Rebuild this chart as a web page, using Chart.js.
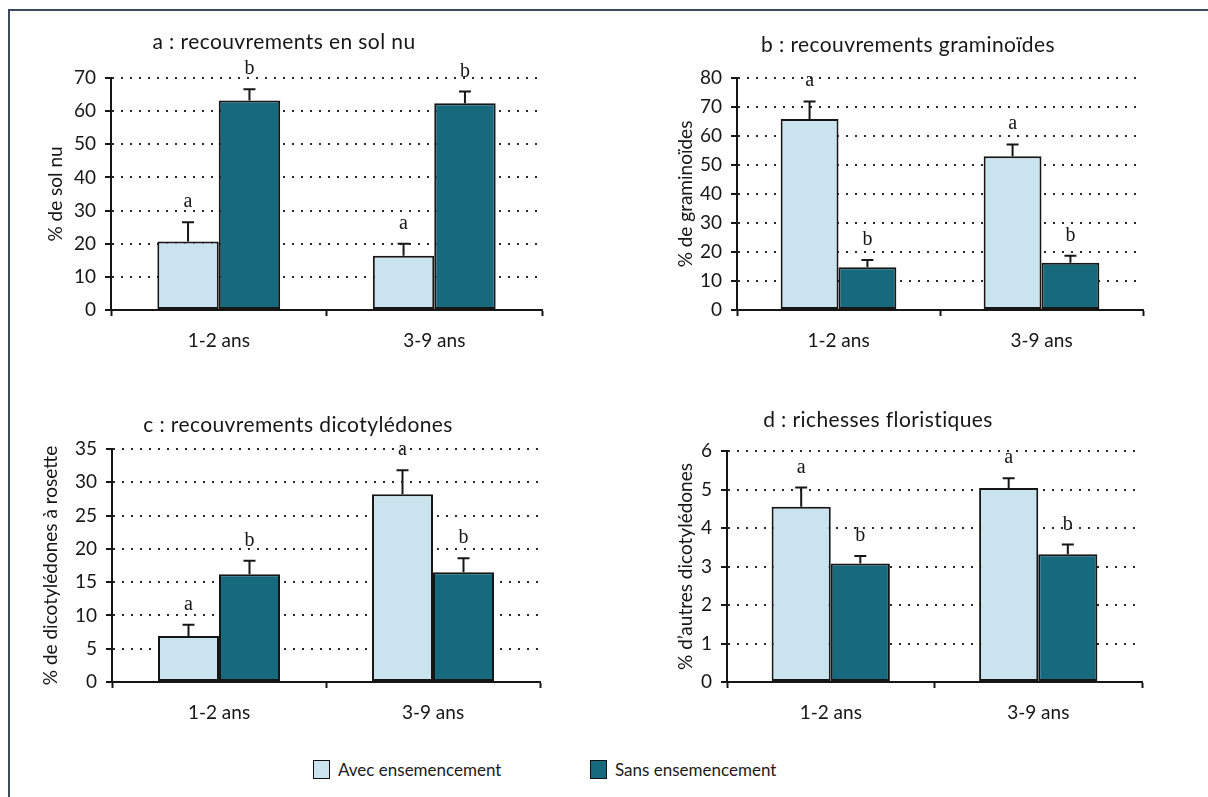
<!DOCTYPE html>
<html>
<head>
<meta charset="utf-8">
<script src="https://cdn.jsdelivr.net/npm/chart.js@4.4.1/dist/chart.umd.min.js"></script>
<style>
  body { margin: 0; background: #fff; width: 1208px; height: 797px; position: relative; overflow: hidden; font-family: Lato, sans-serif; }
  .frame { position: absolute; left: 8px; top: 9px; width: 1220px; height: 800px; border-left: 2px solid #3b4a58; border-top: 2px solid #3b4a58; }
  canvas { position: absolute; }
  .legend { position: absolute; top: 759px; font-size: 17px; color: #1a1a1a; display: flex; align-items: center; }
  .legend span.box { display: inline-block; width: 15px; height: 17px; border: 1.5px solid #111; margin-right: 8px; }
</style>
</head>
<body>
<div class="frame"></div>
<canvas id="chartA" width="520" height="340" style="left:30px;top:20px"></canvas>
<canvas id="chartB" width="510" height="340" style="left:640px;top:20px"></canvas>
<canvas id="chartC" width="520" height="340" style="left:30px;top:400px"></canvas>
<canvas id="chartD" width="510" height="340" style="left:640px;top:400px"></canvas>
<div class="legend" style="left:313px"><span class="box" style="background:#c9e4ee"></span>Avec ensemencement</div>
<div class="legend" style="left:590px"><span class="box" style="background:#17697d"></span>Sans ensemencement</div>

<script>
// ---- Data ----
const categories = ["1-2 ans", "3-9 ans"];
const seriesNames = ["Avec ensemencement", "Sans ensemencement"];

// a : sol nu
const solNuAvec = [20.7, 16.4];
const solNuSans = [63.2, 62.4];
const solNuAvecErr = [5.8, 3.6];
const solNuSansErr = [3.4, 3.5];
const solNuLettres = [["a", "a"], ["b", "b"]];
const solNuTicks = [0, 10, 20, 30, 40, 50, 60, 70];

// b : graminoïdes
const gramAvec = [65.9, 53.0];
const gramSans = [14.7, 16.3];
const gramAvecErr = [6.0, 4.1];
const gramSansErr = [2.5, 2.4];
const gramLettres = [["a", "a"], ["b", "b"]];
const gramTicks = [0, 10, 20, 30, 40, 50, 60, 70, 80];

// c : dicotylédones à rosette
const dicoAvec = [6.9, 28.2];
const dicoSans = [16.2, 16.5];
const dicoAvecErr = [1.7, 3.6];
const dicoSansErr = [2.0, 2.1];
const dicoLettres = [["a", "a"], ["b", "b"]];
const dicoTicks = [0, 5, 10, 15, 20, 25, 30, 35];

// d : richesses floristiques
const richAvec = [4.55, 5.04];
const richSans = [3.08, 3.32];
const richAvecErr = [0.5, 0.25];
const richSansErr = [0.19, 0.25];
const richLettres = [["a", "a"], ["b", "b"]];
const richTicks = [0, 1, 2, 3, 4, 5, 6];

const LIGHT = "#c9e4ee";
const DARK = "#17697d";
const INK = "#161616";
const FONT = "Lato, sans-serif";

// ---- Plugins ----
// upward error bars + significance letters
const errorBarPlugin = {
  id: "errorBars",
  afterDatasetsDraw(chart) {
    const ctx = chart.ctx;
    const y = chart.scales.y;
    ctx.save();
    chart.data.datasets.forEach((ds, di) => {
      const meta = chart.getDatasetMeta(di);
      meta.data.forEach((bar, i) => {
        const top = y.getPixelForValue(ds.data[i] + ds.errors[i]);
        ctx.strokeStyle = INK;
        ctx.lineWidth = 2;
        ctx.beginPath();
        ctx.moveTo(bar.x, bar.y);
        ctx.lineTo(bar.x, top);
        ctx.moveTo(bar.x - 6, top);
        ctx.lineTo(bar.x + 6, top);
        ctx.stroke();
        ctx.fillStyle = INK;
        ctx.font = "20px 'Liberation Serif', serif";
        ctx.textAlign = "center";
        ctx.textBaseline = "alphabetic";
        ctx.fillText(ds.letters[i], bar.x, top - 15);
      });
    });
    ctx.restore();
  }
};

const panelTitlePlugin = {
  id: "panelTitle",
  afterDraw(chart, args, opts) {
    const ctx = chart.ctx;
    ctx.save();
    ctx.fillStyle = INK;
    ctx.font = "21px " + FONT;
    ctx.letterSpacing = "0.4px";
    ctx.textAlign = "center";
    ctx.textBaseline = "middle";
    ctx.fillText(opts.text, opts.x, opts.y);
    ctx.restore();
  }
};

// ---- Panel builder ----
function makePanel(canvasId, p) {
  const ctx = document.getElementById(canvasId).getContext("2d");
  return new Chart(ctx, {
    type: "bar",
    data: {
      labels: categories,
      datasets: [
        { label: seriesNames[0], data: p.avec, errors: p.avecErr, letters: p.letters[0],
          backgroundColor: LIGHT, borderColor: INK, borderWidth: 2, borderSkipped: false },
        { label: seriesNames[1], data: p.sans, errors: p.sansErr, letters: p.letters[1],
          backgroundColor: DARK, borderColor: INK, borderWidth: 2, borderSkipped: false }
      ]
    },
    options: {
      responsive: false,
      animation: false,
      devicePixelRatio: 1,
      layout: { padding: { top: p.padTop, right: p.padRight, left: 0, bottom: 0 } },
      datasets: { bar: { categoryPercentage: 0.57, barPercentage: 1 } },
      plugins: {
        legend: { display: false },
        tooltip: { enabled: false },
        panelTitle: p.title
      },
      scales: {
        x: {
          afterFit: (s) => { s.height = p.xHeight; },
          ticks: { color: INK, font: { family: FONT, size: 19 }, padding: 13 },
          grid: { display: true, drawOnChartArea: false, drawTicks: true, tickLength: 6, tickColor: INK, tickWidth: 2, offset: true },
          border: { display: true, color: INK, width: 2 }
        },
        y: {
          min: 0,
          max: p.ticks[p.ticks.length - 1],
          afterFit: (s) => { s.width = p.yWidth; },
          afterBuildTicks: (s) => { s.ticks = p.ticks.map(v => ({ value: v })); },
          ticks: { color: INK, font: { family: FONT, size: 19 }, padding: 9 },
          grid: { color: "#2a2a2a", lineWidth: 2, tickLength: 6, tickColor: INK, tickWidth: 2, tickBorderDash: [] },
          border: { display: true, color: INK, width: 2, dash: [2, 7] },
          title: { display: true, text: p.yTitle, color: INK, font: { family: FONT, size: 19 }, padding: { top: p.yTitlePad, bottom: 0 } }
        }
      }
    },
    plugins: [errorBarPlugin, panelTitlePlugin]
  });
}

makePanel("chartA", {
  avec: solNuAvec, sans: solNuSans, avecErr: solNuAvecErr, sansErr: solNuSansErr,
  letters: solNuLettres, ticks: solNuTicks, yTitle: "% de sol nu",
  title: { text: "a : recouvrements en sol nu", x: 254, y: 22 },
  padTop: 58, padRight: 8, yWidth: 81, xHeight: 50, yTitlePad: 14
});

makePanel("chartB", {
  avec: gramAvec, sans: gramSans, avecErr: gramAvecErr, sansErr: gramSansErr,
  letters: gramLettres, ticks: gramTicks, yTitle: "% de graminoïdes",
  title: { text: "b : recouvrements graminoïdes", x: 268, y: 25 },
  padTop: 58, padRight: 7, yWidth: 97, xHeight: 50, yTitlePad: 34
});

makePanel("chartC", {
  avec: dicoAvec, sans: dicoSans, avecErr: dicoAvecErr, sansErr: dicoSansErr,
  letters: dicoLettres, ticks: dicoTicks, yTitle: "% de dicotylédones à rosette",
  title: { text: "c : recouvrements dicotylédones", x: 268, y: 25 },
  padTop: 49, padRight: 10, yWidth: 82, xHeight: 58, yTitlePad: 9
});

makePanel("chartD", {
  avec: richAvec, sans: richSans, avecErr: richAvecErr, sansErr: richSansErr,
  letters: richLettres, ticks: richTicks, yTitle: "% d’autres dicotylédones",
  title: { text: "d : richesses floristiques", x: 238, y: 20 },
  padTop: 51, padRight: 8, yWidth: 87, xHeight: 58, yTitlePad: 34
});
</script>
</body>
</html>
